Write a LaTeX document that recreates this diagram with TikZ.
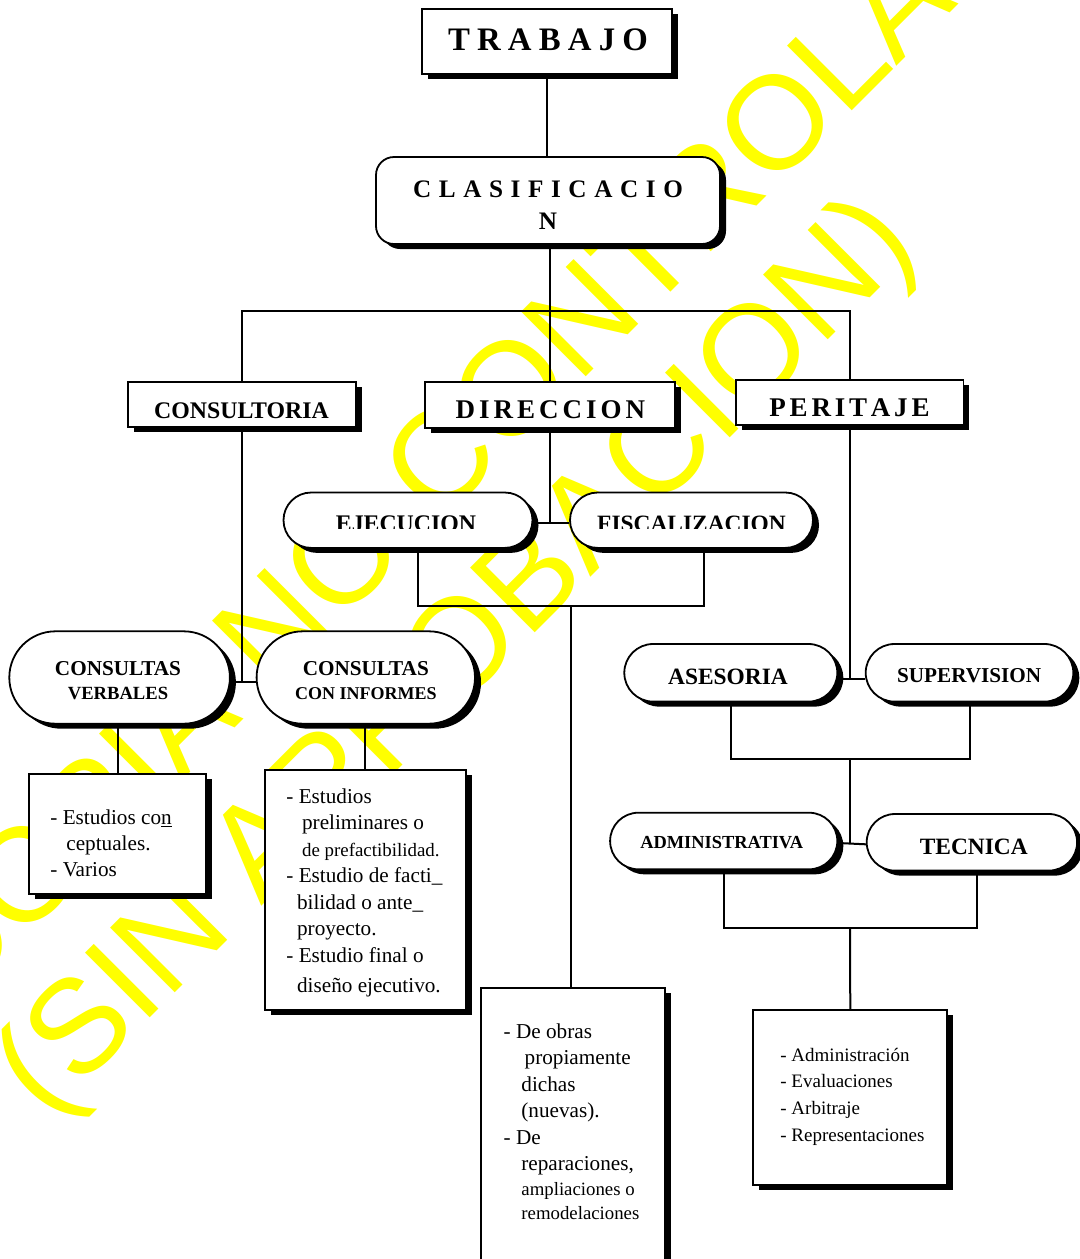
\documentclass[tikz,border=0pt]{standalone}
\usepackage{fontspec}
\setmainfont{Liberation Serif}
\newfontfamily\wmfont{Liberation Sans}
\usetikzlibrary{shapes.misc,shadows,calc}
\definecolor{wmyellow}{RGB}{255,255,0}
\tikzset{
  sh/.style={drop shadow={shadow xshift=3pt,shadow yshift=-2.5pt,opacity=1,fill=black}},
  rbox/.style={draw, line width=0.9pt, fill=white, sh, inner sep=0pt, rectangle},
  cbox/.style={rbox, rounded corners=9pt},
  pill/.style={draw, line width=0.9pt, fill=white, sh, inner sep=0pt, rounded rectangle},
  conn/.style={line width=1pt},
  txt/.style={inner sep=0pt, anchor=base},
  ltxt/.style={inner sep=0pt, anchor=base west},
  wm/.style={inner sep=0pt, anchor=base west, rotate=45, text=wmyellow, font=\wmfont\fontsize{66.5}{70}\selectfont},
}
\begin{document}
\begin{tikzpicture}[x=0.5pt,y=-0.5pt]
\clip (0,0) rectangle (1080,1259);
\fill[white] (0,0) rectangle (1080,1259);
% watermark
\node[wm] (wm1) at (-49,1012) {COPIA NO CONTROLADA};
\node[wm] (wm2) at (47,1121) {(SIN APROBACION)};

% shapes
\node[rbox, minimum width=125pt, minimum height=32.5pt] (trabajo) at (547,41.5) {};
\node[cbox, minimum width=172pt, minimum height=43.5pt] (clasif) at (548,200.5) {};
\node[rbox, minimum width=114pt, minimum height=22.5pt] (consultoria) at (242,404.5) {};
\node[rbox, minimum width=125pt, minimum height=23pt] (direccion) at (550,405) {};
\node[rbox, minimum width=113.7pt, minimum height=22.2pt] (peritaje) at (849.7,402.5) {};
\node[pill, minimum width=124.5pt, minimum height=27.7pt] (ejec) at (408,520.2) {};
\node[pill, minimum width=121.5pt, minimum height=27.7pt] (fisc) at (691.5,520.2) {};
\node[pill, minimum width=110.3pt, minimum height=46.2pt] (cverb) at (119.6,677.5) {};
\node[pill, minimum width=109.2pt, minimum height=46.2pt] (cinf) at (365.8,677.5) {};
\node[pill, minimum width=106.5pt, minimum height=28.8pt] (ases) at (730.8,672.8) {};
\node[pill, minimum width=103.8pt, minimum height=28.8pt] (superv) at (969.5,672.8) {};
\node[pill, minimum width=113.6pt, minimum height=28.3pt] (admin) at (723.7,841) {};
\node[pill, minimum width=105.2pt, minimum height=28.3pt] (tec) at (971.9,842.3) {};
\node[rbox, minimum width=88.2pt, minimum height=59.8pt] (bxL) at (117.5,834.1) {};
\node[rbox, minimum width=100.3pt, minimum height=120pt] (bxI) at (365.4,890.2) {};
\node[rbox, minimum width=92pt, minimum height=155.8pt] (bxO) at (573,1144) {};
\node[rbox, minimum width=97pt, minimum height=87.5pt] (bxR) at (850.3,1097.5) {};

% connectors
\draw[conn] (trabajo.south) -- (trabajo.south |- clasif.north);
\coordinate (busC) at (550,311);
\draw[conn] (clasif.south -| busC) -- (direccion.north);
\draw[conn] (consultoria.north) |- (busC) -| (peritaje.north);
\coordinate (jL) at ($(cverb.east -| consultoria.south)+(0,4)$);
\draw[conn] (consultoria.south) -- (jL);
\draw[conn] ($(cverb.east)+(0,4)$) -- ($(cinf.west)+(0,4)$);
\draw[conn] (direccion.south) -- ($(ejec.east -| direccion.south)+(0,3)$);
\draw[conn] ($(ejec.east)+(0,3)$) -- ($(fisc.west)+(0,3)$);
\coordinate (jEB) at (571,606);
\draw[conn] ($(ejec.south)+(10,0)$) |- (jEB) -| ($(fisc.south)+(12.5,0)$);
\draw[conn] (jEB) -- (jEB |- bxO.north);
\draw[conn] (peritaje.south) -- ($(ases.east -| peritaje.south)+(0,6)$);
\draw[conn] ($(ases.east)+(0,6)$) -- ($(superv.west)+(0,6)$);
\coordinate (jAB) at (850,759);
\draw[conn] (ases.south) |- (jAB) -| (superv.south);
\draw[conn] (jAB) -- ($(admin.east -| jAB)+(0,2)$);
\draw[conn] ($(admin.east)+(0,2)$) -- ($(tec.west)+(0,2)$);
\coordinate (jAT) at (850,928);
\draw[conn] (admin.south) |- (jAT) -| ($(tec.south)+(5,0)$);
\draw[conn] (jAT) -- (bxR.north);
\draw[conn] (bxL.north |- cverb.south) -- (bxL.north);
\draw[conn] (bxI.north |- cinf.south) -- (bxI.north);

% heading texts
\node[txt, font=\bfseries\fontsize{16.4}{20}\selectfont] (trabajoT) at (548,50) {\spaceskip=3.6pt\relax T R A B A J O};
\node[txt, font=\bfseries\fontsize{12.6}{16}\selectfont] (clasifT) at (548,197) {\begin{tabular}[t]{@{}c@{}}\spaceskip=3.8pt\relax C L A S I F I C A C I O\\N\end{tabular}};
\node[txt, font=\bfseries\fontsize{11.9}{14}\selectfont] (consultoriaT) at (241.5,418) {CONSULTORIA};
\node[txt, font=\bfseries\fontsize{13.5}{16}\selectfont] (direccionT) at (550.5,418) {\spaceskip=2pt\relax D I R E C C I O N};
\node[txt, font=\bfseries\fontsize{13.5}{16}\selectfont] (peritajeT) at (849.5,416) {\spaceskip=1.9pt\relax P E R I T A J E};
\begin{scope}
\clip (270,480) rectangle (830,528.6);
\node[txt, font=\bfseries\fontsize{11.9}{14}\selectfont] (ejecT) at (406,531) {EJECUCION};
\node[txt, font=\bfseries\fontsize{11.7}{14}\selectfont] (fiscT) at (691.5,531) {FISCALIZACION};
\end{scope}
\node[txt, font=\bfseries\fontsize{10.6}{12}\selectfont] (cverbT) at (118,675) {\begin{tabular}[t]{@{}c@{}}CONSULTAS\\{\fontsize{9.3}{12}\selectfont VERBALES}\end{tabular}};
\node[txt, font=\bfseries\fontsize{10.6}{12}\selectfont] (cinfT) at (365.8,675) {\begin{tabular}[t]{@{}c@{}}CONSULTAS\\{\fontsize{9.0}{12}\selectfont CON INFORMES}\end{tabular}};
\node[txt, font=\bfseries\fontsize{11.7}{14}\selectfont] (asesT) at (728,684) {ASESORIA};
\node[txt, font=\bfseries\fontsize{10.6}{14}\selectfont] (supervT) at (969.2,682) {SUPERVISION};
\node[txt, font=\bfseries\fontsize{9.2}{12}\selectfont] (adminT) at (721.7,848.3) {ADMINISTRATIVA};
\node[txt, font=\bfseries\fontsize{11.7}{14}\selectfont] (tecT) at (973.8,854) {TECNICA};

% body texts
\node[ltxt, font=\fontsize{10.6}{13}\selectfont] (bxLT) at (50,824) {\begin{tabular}[t]{@{}l@{}}- Estudios co\underline{n}\\\hspace{8pt}ceptuales.\\- Varios\end{tabular}};
\node[ltxt, font=\fontsize{10.6}{13.25}\selectfont] (bxIT) at (286,803) {\begin{tabular}[t]{@{}l@{}}
- Estudios\\
\hspace{7.85pt}preliminares o\\
\hspace{7.85pt}{\fontsize{9.45}{13.25}\selectfont de prefactibilidad.}\\
- Estudio de facti\_\\
\hspace{5.35pt}bilidad o ante\_\\
\hspace{5.35pt}proyecto.\\
- Estudio final o\\[1.95pt]
\hspace{5.35pt}diseño ejecutivo.
\end{tabular}};
\node[ltxt, font=\fontsize{10.6}{13.25}\selectfont] (bxOT) at (503.3,1038) {\begin{tabular}[t]{@{}l@{}}
- De obras\\
\hspace{10.5pt}propiamente\\
\hspace{8.85pt}dichas\\
\hspace{8.85pt}(nuevas).\\
- De\\
\hspace{8.85pt}reparaciones,\\\noalign{\vskip-0.75pt}
\hspace{8.85pt}{\fontsize{9.4}{12}\selectfont ampliaciones o}\\\noalign{\vskip-1.25pt}
\hspace{8.85pt}{\fontsize{9.4}{12}\selectfont remodelaciones}
\end{tabular}};
\node[ltxt, font=\fontsize{9.5}{13.35}\selectfont] (bxRT) at (780,1061) {\begin{tabular}[t]{@{}l@{}}- Administración\\- Evaluaciones\\- Arbitraje\\- Representaciones\end{tabular}};
\end{tikzpicture}
\end{document}
